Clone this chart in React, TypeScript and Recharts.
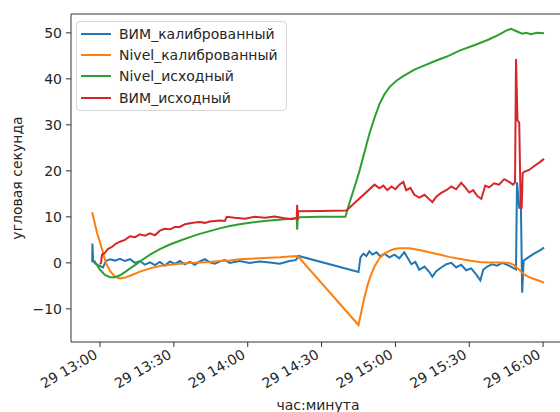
import React from 'react';
import { LineChart, Line, XAxis, YAxis, ReferenceArea } from 'recharts';

// [minutes after 12:00 on the 29th, angular seconds]
const bimCal: [number, number][] = [
  [56.8, 0.2], [56.9, 4.2], [57.2, 0.3], [58.4, -0.3], [60.0, -0.7], [61.2, -1.0], [62.4, 0.4], [64.1, 0.8],
  [66.1, 0.5], [68.1, 0.9], [70.1, 0.4], [72.2, 0.8], [74.2, 0.0], [76.2, 0.4], [78.2, -0.4], [80.3, 0.1],
  [82.3, -0.5], [84.3, 0.2], [86.3, -0.6], [88.4, 0.3], [90.4, -0.2], [92.4, 0.4], [94.5, -0.3], [96.5, 0.2],
  [98.5, -0.4], [100.5, 0.3], [102.6, 0.8], [104.6, 0.1], [106.6, -0.2], [108.6, 0.3], [110.7, 0.6], [112.7, 0.0],
  [116.7, 0.4], [120.8, 0.0], [124.9, 0.3], [128.9, 0.1], [133.0, -0.2], [137.0, 0.4], [139.5, 0.6], [140.7, 1.5],
  [165.0, -2.0], [165.8, 1.2], [167.0, 2.0], [168.2, 1.5], [169.4, 2.5], [170.7, 1.8], [172.3, 2.3], [173.9, 1.4],
  [175.5, 2.0], [177.6, 1.2], [179.6, 1.8], [181.6, 1.0], [183.6, 2.3], [184.8, 1.2], [186.5, -0.3], [188.1, 0.2],
  [189.7, -1.5], [191.8, -0.8], [193.8, -2.0], [195.0, -3.0], [196.6, -1.8], [198.6, -1.0], [200.7, -0.3],
  [202.7, 0.0], [204.7, -1.0], [206.7, -0.4], [208.8, -1.6], [210.8, -1.2], [212.8, -2.5], [214.5, -3.8],
  [215.7, -1.5], [217.3, -0.8], [219.3, -0.3], [221.3, -0.6], [223.4, 0.0], [225.4, -0.4], [227.4, -1.0],
  [229.0, -1.4], [229.4, 17.5], [230.3, 12.0], [231.0, 12.0], [231.5, -6.5], [232.1, 0.5], [234.3, 1.3],
  [236.3, 2.0], [238.4, 2.6], [240.4, 3.3],
];

const nivelCal: [number, number][] = [
  [56.8, 11.0], [58.8, 6.5], [60.8, 3.0], [62.4, 0.0], [64.1, -1.8], [66.1, -3.0], [68.1, -3.4], [70.1, -3.2],
  [72.2, -2.8], [76.2, -1.9], [80.3, -1.2], [84.3, -0.7], [88.4, -0.4], [92.4, -0.2], [96.5, 0.0], [100.5, 0.1],
  [104.6, 0.2], [108.6, 0.4], [112.7, 0.5], [116.7, 0.8], [120.8, 0.9], [124.9, 1.0], [128.9, 1.1], [133.0, 1.2],
  [137.0, 1.4], [140.3, 1.5], [165.0, -13.5], [166.2, -10.5], [167.4, -7.5], [168.6, -5.0], [169.8, -3.0],
  [171.5, -0.8], [173.5, 1.0], [175.5, 2.0], [177.6, 2.6], [179.6, 3.0], [181.6, 3.2], [185.7, 3.2], [189.7, 2.8],
  [193.8, 2.3], [197.8, 1.8], [201.9, 1.3], [205.9, 0.9], [210.0, 0.5], [214.0, 0.2], [218.1, 0.1], [222.1, 0.1],
  [226.2, 0.0], [228.2, -0.5], [230.3, -1.5], [232.3, -2.5], [234.3, -3.1], [236.3, -3.5], [238.4, -3.9],
  [240.4, -4.3],
];

const nivelRaw: [number, number][] = [
  [57.6, 0.5], [60.0, -1.5], [62.0, -2.6], [64.1, -3.1], [66.1, -3.1], [68.1, -2.7], [70.1, -2.0], [72.2, -1.2],
  [74.2, -0.5], [76.2, 0.3], [80.3, 1.8], [84.3, 3.0], [88.4, 4.0], [92.4, 4.8], [96.5, 5.6], [100.5, 6.3],
  [104.6, 6.9], [108.6, 7.5], [112.7, 8.0], [116.7, 8.4], [120.8, 8.7], [124.9, 9.0], [128.9, 9.2], [133.0, 9.4],
  [137.0, 9.6], [139.9, 9.7], [140.1, 7.2], [140.3, 9.7], [141.1, 9.9], [149.2, 10.0], [159.7, 10.0],
  [161.3, 13.0], [163.4, 16.5], [165.4, 20.0], [167.4, 24.0], [169.4, 28.0], [171.5, 31.5], [173.5, 34.5],
  [175.5, 36.6], [177.6, 38.2], [180.4, 39.6], [183.2, 40.6], [187.7, 42.0], [192.1, 43.0], [196.6, 44.0],
  [200.7, 44.8], [203.9, 45.6], [206.3, 46.2], [212.0, 47.3], [217.7, 48.5], [222.1, 49.6], [225.0, 50.5],
  [227.0, 50.9], [229.4, 50.3], [231.5, 49.8], [233.1, 50.0], [235.1, 49.7], [237.5, 50.0], [240.4, 49.9],
];

const bimRaw: [number, number][] = [
  [60.0, -0.3], [60.4, 0.0], [60.8, 1.8], [62.0, 2.2], [63.2, 3.0], [64.9, 3.5], [66.5, 4.2], [68.1, 4.6],
  [70.1, 5.0], [72.2, 5.8], [74.2, 5.6], [76.2, 6.2], [78.2, 5.9], [80.3, 6.4], [82.3, 6.0], [84.3, 7.0],
  [86.3, 7.4], [88.4, 7.3], [90.4, 7.8], [92.4, 7.8], [94.5, 8.4], [96.5, 8.6], [98.5, 8.8], [100.5, 8.9],
  [102.6, 8.7], [104.6, 9.0], [108.6, 9.2], [110.7, 9.1], [111.5, 10.0], [114.7, 9.8], [118.8, 9.6],
  [122.8, 10.0], [126.9, 9.8], [130.9, 10.1], [135.0, 9.7], [137.8, 9.5], [139.9, 9.8], [140.1, 12.6],
  [140.3, 9.3], [140.5, 11.2], [150.0, 11.3], [160.1, 11.4], [171.5, 17.0], [173.5, 16.2], [175.1, 16.8],
  [176.7, 15.8], [178.4, 16.6], [180.0, 16.0], [181.6, 17.0], [183.2, 17.6], [184.4, 15.8], [186.1, 16.3],
  [187.7, 14.8], [189.7, 14.2], [191.8, 14.8], [193.8, 13.8], [195.0, 13.2], [196.6, 14.4], [198.6, 15.2],
  [200.7, 15.8], [202.7, 16.6], [204.7, 16.0], [206.7, 17.4], [208.4, 16.4], [210.0, 15.3], [211.6, 15.8],
  [213.2, 14.6], [214.9, 13.9], [216.5, 16.8], [218.1, 16.4], [220.1, 17.3], [222.1, 17.0], [224.2, 18.2],
  [226.2, 17.6], [227.8, 17.0], [228.6, 17.5], [229.0, 44.3], [229.6, 31.0], [230.3, 30.5], [230.9, 12.0],
  [231.3, 12.0], [231.7, 19.5], [232.3, 19.8], [234.3, 20.2], [236.3, 21.0], [238.4, 21.8], [240.4, 22.6],
];

const seriesNames = ['ВИМ_калиброванный', 'Nivel_калиброванный', 'Nivel_исходный', 'ВИМ_исходный'];
const seriesColors = ['#1f77b4', '#ff7f0e', '#2ca02c', '#d62728'];
const seriesData = [bimCal, nivelCal, nivelRaw, bimRaw];

const xTickLabels = ['29 13:00', '29 13:30', '29 14:00', '29 14:30', '29 15:00', '29 15:30', '29 16:00'];
const yTicks = [-10, 0, 10, 20, 30, 40, 50];
const xDomain = [48.2, 248.9];
const yDomain = [-17.2, 54.1];

const toMinutes = (label: string) => {
  const [h, m] = label.split(' ')[1].split(':').map(Number);
  return (h - 12) * 60 + m;
};
const xTicks = xTickLabels.map(toMinutes);

const font = 'DejaVu Sans';
const textColor = '#262626';

const XTick = ({ x, y, payload }: any) => {
  const label = xTickLabels[xTicks.indexOf(payload.value)];
  const ax = x - 4;
  const ay = y + 6;
  return (
    <text x={ax} y={ay} transform={`rotate(-30, ${ax}, ${ay})`} textAnchor="end" dominantBaseline="central"
      fontFamily={font} fontSize={14} fill={textColor}>
      {label}
    </text>
  );
};

const fmtY = (v: number) => (v < 0 ? `\u2212${Math.abs(v)}` : `${v}`);

const LegendBox = () => (
  <div style={{
    position: 'absolute', left: 76, top: 21, border: '1px solid #d6d6d6', borderRadius: 4,
    background: 'rgba(255,255,255,0.8)', padding: '1px 8px 2px 4px', fontFamily: font, fontSize: 14, color: textColor,
  }}>
    {seriesNames.map((n, i) => (
      <div key={n} style={{ display: 'flex', alignItems: 'center', height: 21.3 }}>
        <span style={{ display: 'inline-block', width: 30, height: 2, background: seriesColors[i], marginRight: 8 }} />
        <span>{n}</span>
      </div>
    ))}
  </div>
);

export default function App() {
  return (
    <div style={{ position: 'absolute', left: 0, top: 0, width: 560, height: 412, overflow: 'hidden', background: '#fff' }}>
      <LineChart width={600} height={412} margin={{ top: 14, right: 35, bottom: 0, left: 0 }}>
        <XAxis
          type="number"
          dataKey="t"
          domain={xDomain}
          allowDataOverflow
          ticks={xTicks}
          tick={<XTick />}
          tickSize={5}
          tickMargin={0}
          height={70}
          axisLine={false}
          stroke="#333"
          interval={0}
          label={{ value: 'час:минута', position: 'insideBottom', offset: 2, fontFamily: font, fontSize: 14, fill: textColor }}
        />
        <YAxis
          type="number"
          domain={yDomain}
          allowDataOverflow
          ticks={yTicks}
          tickFormatter={fmtY}
          tickSize={5}
          tickMargin={4}
          width={71}
          axisLine={false}
          stroke="#333"
          interval={0}
          tick={{ fontFamily: font, fontSize: 14, fill: textColor }}
          label={{ value: 'угловая секунда', angle: -90, position: 'insideLeft', offset: 17, style: { textAnchor: 'middle' }, fontFamily: font, fontSize: 14, fill: textColor }}
        />
        {seriesData.map((d, i) => (
          <Line
            key={seriesNames[i]}
            data={d.map(([t, v]) => ({ t, v }))}
            dataKey="v"
            name={seriesNames[i]}
            type="linear"
            stroke={seriesColors[i]}
            strokeWidth={2}
            dot={false}
            isAnimationActive={false}
          />
        ))}
        <ReferenceArea x1={xDomain[0]} x2={xDomain[1]} y1={yDomain[0]} y2={yDomain[1]} fill="none" stroke="#333" strokeWidth={1} />
      </LineChart>
      <LegendBox />
    </div>
  );
}
